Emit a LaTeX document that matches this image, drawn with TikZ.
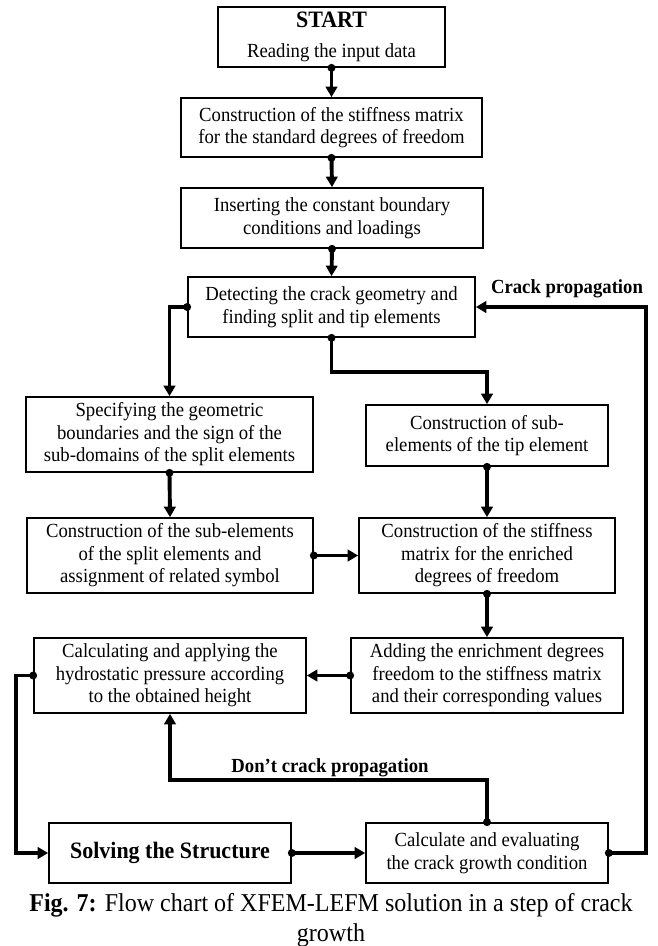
\documentclass[tikz,border=0pt]{standalone}
\usepackage{fontspec}
\setmainfont{Liberation Serif}[FakeStretch=0.935]
\usetikzlibrary{arrows.meta}
\begin{document}
\begin{tikzpicture}[x=1pt,y=-1pt,
  box/.style={draw, line width=1.7pt, align=center, inner sep=0pt,
    font=\fontsize{20}{22.5}\selectfont},
  conn/.style={line width=3.9pt, -{Triangle[length=10.5pt,width=11.5pt]}},
  lbl/.style={font=\bfseries\fontsize{20}{22}\selectfont},
  big/.style={font=\bfseries\fontsize{23.5}{25}\selectfont}]
\fill[white] (0,0) rectangle (657,946);
\useasboundingbox (0,0) rectangle (657,946);

\node[box, minimum width=227pt, minimum height=60pt] (start) at (331.5,37)
  {{\bfseries\fontsize{23.5}{24}\selectfont START}\\[7pt]Reading the input data};
\node[box, minimum width=301pt, minimum height=59pt] (stiff) at (331.5,127.5)
  {Construction of the stiffness matrix\\for the standard degrees of freedom};
\node[box, minimum width=302pt, minimum height=60pt] (insert) at (332,218)
  {Inserting the constant boundary\\conditions and loadings};
\node[box, minimum width=287pt, minimum height=60pt] (detect) at (331.5,307)
  {Detecting the crack geometry and\\finding split and tip elements};
\node[box, minimum width=287pt, minimum height=75pt] (specify) at (169.5,434.5)
  {Specifying the geometric\\boundaries and the sign of the\\sub-domains of the split elements};
\node[box, minimum width=242pt, minimum height=61pt] (tipsub) at (487,435.5)
  {Construction of sub-\\elements of the tip element};
\node[box, minimum width=286pt, minimum height=75pt] (splitsub) at (170,555.5)
  {Construction of the sub-elements\\of the split elements and\\assignment of related symbol};
\node[box, minimum width=256pt, minimum height=75pt] (enrich) at (487,555.5)
  {Construction of the stiffness\\matrix for the enriched\\degrees of freedom};
\node[box, minimum width=272pt, minimum height=75pt] (calc) at (170,675.5)
  {Calculating and applying the\\hydrostatic pressure according\\to the obtained height};
\node[box, minimum width=272pt, minimum height=75pt] (add) at (487,675.5)
  {Adding the enrichment degrees\\freedom to the stiffness matrix\\and their corresponding values};
\node[box, minimum width=242pt, minimum height=60pt, big] (solve) at (170,853)
  {Solving the Structure};
\node[box, minimum width=242pt, minimum height=60pt] (eval) at (487,853)
  {Calculate and evaluating\\the crack growth condition};

% connectors
\draw[conn] (start.south) -- (stiff.north);
\fill (start.south) circle (4pt);
\draw[conn] (stiff.south) -- (insert.north);
\fill (stiff.south) circle (4pt);
\draw[conn] (insert.south) -- (detect.north);
\fill (insert.south) circle (4pt);

\draw[conn] (detect.west) -| (specify.north);
\fill (detect.west) circle (4pt);
\draw[conn] (detect.south) -- ++(0,34) -| (tipsub.north);
\fill (detect.south) circle (4pt);

\draw[conn] (specify.south) -- (splitsub.north);
\fill (specify.south) circle (4pt);
\draw[conn] (tipsub.south) -- (enrich.north);
\fill (tipsub.south) circle (4pt);

\draw[conn] (splitsub.east) -- (enrich.west);
\fill (splitsub.east) circle (4pt);
\draw[conn] (enrich.south) -- (add.north);
\fill (enrich.south) circle (4pt);
\draw[conn] (add.west) -- (calc.east);
\fill (add.west) circle (4pt);

\draw[conn] (calc.west) -- ++(-17,0) |- (solve.west);
\fill (calc.west) circle (4pt);
\draw[conn] (solve.east) -- (eval.west);
\fill (solve.east) circle (4pt);

\draw[conn] (eval.north) -- ++(0,-42) -| (calc.south);
\fill (eval.north) circle (4pt);
\node[lbl] (dontlbl) at (330,768) {Don’t crack propagation};

\draw[conn] (eval.east) -- ++(37,0) |- (detect.east);
\fill (eval.east) circle (4pt);
\node[lbl] (cracklbl) at (567,289) {Crack propagation};

\node[align=center, font=\fontsize{25.7}{30}\selectfont] (cap) at (331,920)
  {\textbf{Fig. 7:} Flow chart of XFEM-LEFM solution in a step of crack\\growth};
\end{tikzpicture}
\end{document}
